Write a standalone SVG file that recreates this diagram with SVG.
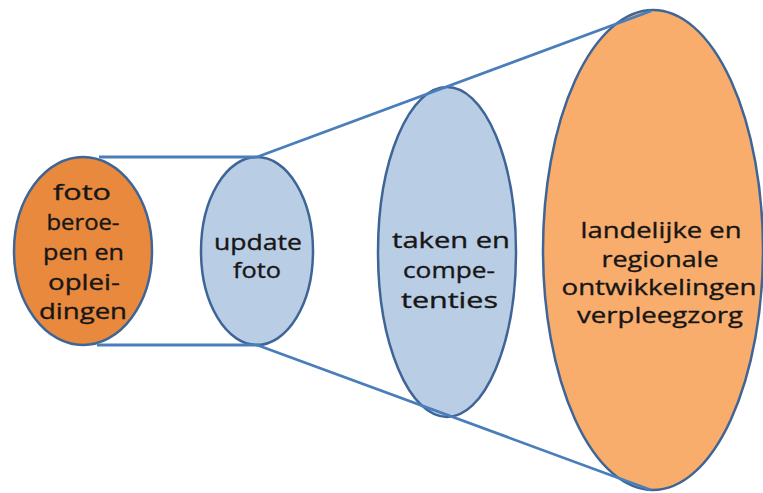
<svg xmlns="http://www.w3.org/2000/svg" width="763" height="493" viewBox="0 0 763 493">
<style>
.node{stroke:#3E6595;stroke-width:2.5}
.dark{fill:#E8893E}
.blue{fill:#B9CDE5}
.light{fill:#F9AD6D}
.conn line{stroke:#4A7EBB;stroke-width:2.8;fill:none}
text{font-family:"Open Sans","Noto Sans","Liberation Sans",sans-serif;font-size:22px;fill:#161616;stroke:#161616;stroke-width:0.35;text-anchor:middle}
</style>
<rect width="763" height="493" fill="#ffffff"/>
<g id="n1">
<ellipse class="node dark" cx="83" cy="251" rx="69" ry="94"/>
<text x="82" y="200" textLength="58" lengthAdjust="spacingAndGlyphs">foto</text>
<text x="83" y="230" textLength="73" lengthAdjust="spacingAndGlyphs">beroe-</text>
<text x="83.5" y="260" textLength="81" lengthAdjust="spacingAndGlyphs">pen en</text>
<text x="84" y="290" textLength="72" lengthAdjust="spacingAndGlyphs">oplei-</text>
<text x="83" y="319" textLength="88" lengthAdjust="spacingAndGlyphs">dingen</text>
</g>
<g id="n2">
<ellipse class="node blue" cx="257" cy="251" rx="56" ry="94"/>
<text x="258" y="250" textLength="88" lengthAdjust="spacingAndGlyphs">update</text>
<text x="257" y="278" textLength="48" lengthAdjust="spacingAndGlyphs">foto</text>
</g>
<g id="n3">
<ellipse class="node blue" cx="447" cy="252" rx="69" ry="165"/>
<text x="451" y="248" textLength="118" lengthAdjust="spacingAndGlyphs">taken en</text>
<text x="449" y="278" textLength="92" lengthAdjust="spacingAndGlyphs">compe-</text>
<text x="449.5" y="308" textLength="97" lengthAdjust="spacingAndGlyphs">tenties</text>
</g>
<g id="n4">
<ellipse class="node light" cx="653" cy="250" rx="110" ry="240"/>
<text x="661" y="238" textLength="161" lengthAdjust="spacingAndGlyphs">landelijke en</text>
<text x="660" y="267" textLength="117" lengthAdjust="spacingAndGlyphs">regionale</text>
<text x="659" y="295" textLength="195" lengthAdjust="spacingAndGlyphs">ontwikkelingen</text>
<text x="660" y="323" textLength="166" lengthAdjust="spacingAndGlyphs">verpleegzorg</text>
</g>
<g id="connectors" class="conn">
<line x1="99" y1="157" x2="257" y2="157"/>
<line x1="97" y1="345" x2="259" y2="345"/>
<line x1="257" y1="157" x2="651" y2="11"/>
<line x1="257" y1="345" x2="651" y2="490"/>
</g>
</svg>
